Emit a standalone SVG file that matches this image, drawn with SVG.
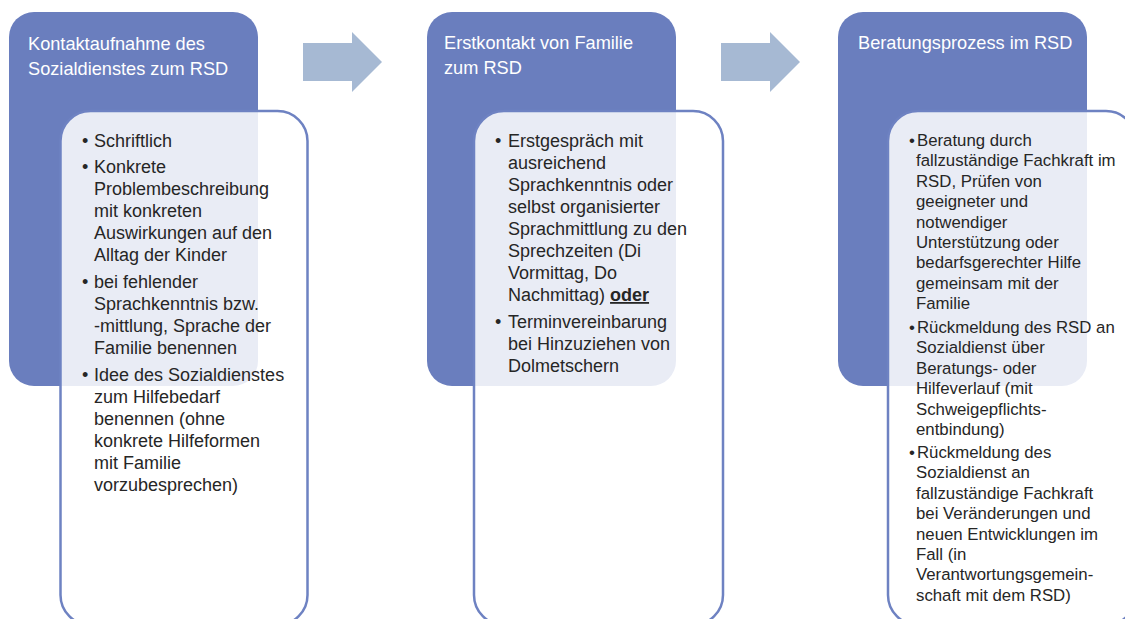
<svg xmlns="http://www.w3.org/2000/svg" width="1125" height="619" viewBox="0 0 1125 619">
<style>
.hdr{fill:#6A7EBE}
.box{fill:#ffffff;fill-opacity:0.85;stroke:#6E82C2;stroke-width:2.5}
.arrow{fill:#A6B9D3}
.ht{font-family:"Liberation Sans",Arial,sans-serif;font-size:18.2px;fill:#ffffff}
.bt{font-family:"Liberation Sans",Arial,sans-serif;font-size:18px;fill:#262626}
.bt3{font-family:"Liberation Sans",Arial,sans-serif;font-size:16.8px;fill:#262626}
</style>
<rect width="1125" height="619" fill="#ffffff"/>
<g id="connectors">
<polygon class="arrow" points="303,43 352,43 352,32 382,62 352,92 352,81 303,81"/>
<polygon class="arrow" points="721,43 770,43 770,32 800,62 770,92 770,81 721,81"/>
</g>
<g id="node1-header">
<rect class="hdr" x="9" y="12" width="249" height="374" rx="25"/>
<text class="ht" x="28" y="50">Kontaktaufnahme des</text>
<text class="ht" x="28" y="75">Sozialdienstes zum RSD</text>
</g>
<g id="node1-content">
<rect class="box" x="60.5" y="111" width="247" height="514" rx="30"/>
<g class="bt">
<text x="82" y="147">•</text><text x="94" y="147">Schriftlich</text>
<text x="82" y="173">•</text><text x="94" y="173">Konkrete</text>
<text x="94" y="195">Problembeschreibung</text>
<text x="94" y="217">mit konkreten</text>
<text x="94" y="239">Auswirkungen auf den</text>
<text x="94" y="261">Alltag der Kinder</text>
<text x="82" y="288">•</text><text x="94" y="288">bei fehlender</text>
<text x="94" y="310">Sprachkenntnis bzw.</text>
<text x="94" y="332">-mittlung, Sprache der</text>
<text x="94" y="354">Familie benennen</text>
<text x="82" y="381">•</text><text x="94" y="381">Idee des Sozialdienstes</text>
<text x="94" y="403">zum Hilfebedarf</text>
<text x="94" y="425">benennen (ohne</text>
<text x="94" y="447">konkrete Hilfeformen</text>
<text x="94" y="469">mit Familie</text>
<text x="94" y="491">vorzubesprechen)</text>
</g>
</g>
<g id="node2-header">
<rect class="hdr" x="427" y="12" width="249" height="374" rx="25"/>
<text class="ht" x="444" y="49">Erstkontakt von Familie</text>
<text class="ht" x="444" y="74">zum RSD</text>
</g>
<g id="node2-content">
<rect class="box" x="474" y="111" width="249" height="514" rx="30"/>
<g class="bt">
<text x="495" y="147">•</text><text x="508" y="147">Erstgespräch mit</text>
<text x="508" y="169">ausreichend</text>
<text x="508" y="191">Sprachkenntnis oder</text>
<text x="508" y="213">selbst organisierter</text>
<text x="508" y="235">Sprachmittlung zu den</text>
<text x="508" y="257">Sprechzeiten (Di</text>
<text x="508" y="279">Vormittag, Do</text>
<text x="508" y="301">Nachmittag) <tspan font-weight="bold" text-decoration="underline">oder</tspan></text>
<text x="495" y="328">•</text><text x="508" y="328">Terminvereinbarung</text>
<text x="508" y="350">bei Hinzuziehen von</text>
<text x="508" y="372">Dolmetschern</text>
</g>
</g>
<g id="node3-header">
<rect class="hdr" x="838" y="12" width="249" height="374" rx="25"/>
<text class="ht" x="858" y="49">Beratungsprozess im RSD</text>
</g>
<g id="node3-content">
<rect class="box" x="888" y="111" width="248" height="514" rx="30"/>
<g class="bt3">
<text x="909" y="146">•</text><text x="917" y="146">Beratung durch</text>
<text x="916" y="166.4">fallzuständige Fachkraft im</text>
<text x="916" y="186.8">RSD, Prüfen von</text>
<text x="916" y="207.2">geeigneter und</text>
<text x="916" y="227.6">notwendiger</text>
<text x="916" y="248">Unterstützung oder</text>
<text x="916" y="268.4">bedarfsgerechter Hilfe</text>
<text x="916" y="288.8">gemeinsam mit der</text>
<text x="916" y="309.2">Familie</text>
<text x="909" y="333">•</text><text x="917" y="333">Rückmeldung des RSD an</text>
<text x="916" y="353.4">Sozialdienst über</text>
<text x="916" y="373.8">Beratungs- oder</text>
<text x="916" y="394.2">Hilfeverlauf (mit</text>
<text x="916" y="414.6">Schweigepflichts-</text>
<text x="916" y="435">entbindung)</text>
<text x="909" y="458">•</text><text x="917" y="458">Rückmeldung des</text>
<text x="916" y="478.4">Sozialdienst an</text>
<text x="916" y="498.8">fallzuständige Fachkraft</text>
<text x="916" y="519.2">bei Veränderungen und</text>
<text x="916" y="539.6">neuen Entwicklungen im</text>
<text x="916" y="560">Fall (in</text>
<text x="916" y="580.4">Verantwortungsgemein-</text>
<text x="916" y="600.8">schaft mit dem RSD)</text>
</g>
</g>
</svg>
